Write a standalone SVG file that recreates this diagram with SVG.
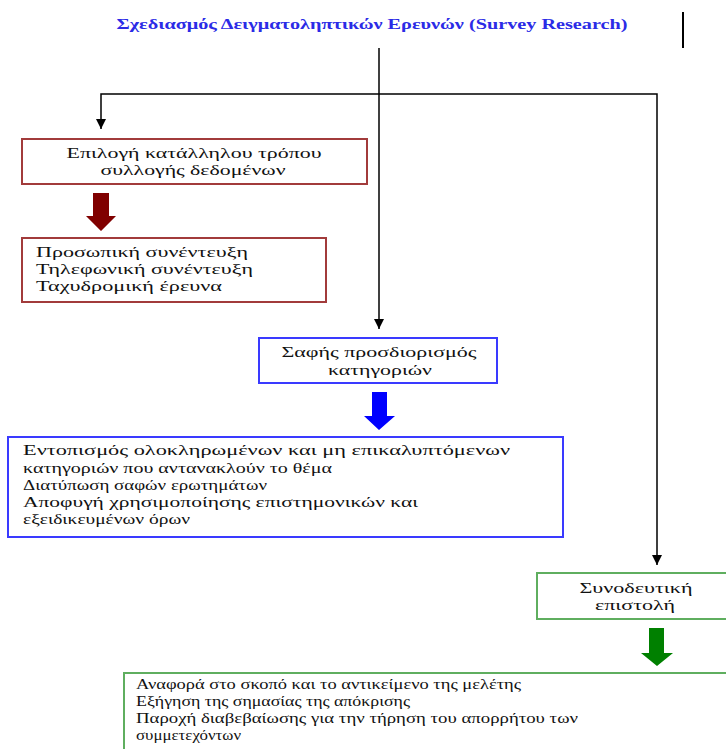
<svg xmlns="http://www.w3.org/2000/svg" width="726" height="749" viewBox="0 0 726 749">
<defs>
<style>
.t{font-family:"Liberation Serif","Times New Roman","DejaVu Serif",serif;font-size:15px;fill:#111}
.title{font-family:"Liberation Serif","Times New Roman","DejaVu Serif",serif;font-size:15px;font-weight:bold;fill:#2b2be6}
.red{fill:#fff;stroke:#a23b3b;stroke-width:2}
.blue{fill:#fff;stroke:#3a3aff;stroke-width:2}
.green{fill:#fff;stroke:#5fae5f;stroke-width:2}
.conn{fill:none;stroke:#000;stroke-width:1.5}
</style>
<marker id="ah" markerUnits="userSpaceOnUse" markerWidth="10" markerHeight="10" viewBox="0 0 10 10" refX="10" refY="5" orient="auto">
<path d="M0,0 L10,5 L0,10 Z" fill="#000"/>
</marker>
</defs>
<rect width="726" height="749" fill="#fff"/>
<text class="title" x="372" y="29" text-anchor="middle" textLength="511" lengthAdjust="spacingAndGlyphs">Σχεδιασμός Δειγματοληπτικών Ερευνών (Survey Research)</text>
<line x1="683" y1="12" x2="683" y2="48" stroke="#000" stroke-width="2"/>
<g id="connectors">
<path class="conn" d="M379 48 V329" marker-end="url(#ah)"/>
<path class="conn" d="M379 94 H101 V129" marker-end="url(#ah)"/>
<path class="conn" d="M379 94 H657 V565" marker-end="url(#ah)"/>
<polygon points="93,193 109,193 109,216 116,216 101,231 86,216 93,216" fill="#800000"/>
<polygon points="372,392 387,392 387,416 395,416 379,430 364,416 372,416" fill="#0000ff"/>
<polygon points="649,628 664,628 664,653 673,653 657,666 641,653 649,653" fill="#008000"/>
</g>
<g id="n1">
<rect class="red" x="22" y="139" width="345" height="45"/>
<text class="t" x="194" y="158" text-anchor="middle" textLength="255" lengthAdjust="spacingAndGlyphs">Επιλογή κατάλληλου τρόπου</text>
<text class="t" x="193" y="175" text-anchor="middle" textLength="185" lengthAdjust="spacingAndGlyphs">συλλογής δεδομένων</text>
</g>
<g id="n2">
<rect class="red" x="22" y="238" width="304" height="64"/>
<text class="t" x="36" y="257" textLength="212" lengthAdjust="spacingAndGlyphs">Προσωπική συνέντευξη</text>
<text class="t" x="36" y="274" textLength="217" lengthAdjust="spacingAndGlyphs">Τηλεφωνική συνέντευξη</text>
<text class="t" x="36" y="291" textLength="186" lengthAdjust="spacingAndGlyphs">Ταχυδρομική έρευνα</text>
</g>
<g id="n3">
<rect class="blue" x="259" y="338" width="238" height="45"/>
<text class="t" x="379" y="357" text-anchor="middle" textLength="195" lengthAdjust="spacingAndGlyphs">Σαφής προσδιορισμός</text>
<text class="t" x="380" y="375" text-anchor="middle" textLength="104" lengthAdjust="spacingAndGlyphs">κατηγοριών</text>
</g>
<g id="n4">
<rect class="blue" x="8" y="437" width="555" height="100"/>
<text class="t" x="23" y="455" textLength="487" lengthAdjust="spacingAndGlyphs">Εντοπισμός ολοκληρωμένων και μη επικαλυπτόμενων</text>
<text class="t" x="23" y="473" textLength="309" lengthAdjust="spacingAndGlyphs">κατηγοριών που αντανακλούν το θέμα</text>
<text class="t" x="23" y="490" textLength="244" lengthAdjust="spacingAndGlyphs">Διατύπωση σαφών ερωτημάτων</text>
<text class="t" x="23" y="507" textLength="395" lengthAdjust="spacingAndGlyphs">Αποφυγή χρησιμοποίησης επιστημονικών και</text>
<text class="t" x="23" y="524" textLength="167" lengthAdjust="spacingAndGlyphs">εξειδικευμένων όρων</text>
</g>
<g id="n5">
<rect class="green" x="537" y="573" width="200" height="46"/>
<text class="t" x="636" y="593" text-anchor="middle" textLength="113" lengthAdjust="spacingAndGlyphs">Συνοδευτική</text>
<text class="t" x="635" y="610" text-anchor="middle" textLength="80" lengthAdjust="spacingAndGlyphs">επιστολή</text>
</g>
<g id="n6">
<rect class="green" x="124" y="673" width="610" height="90"/>
<text class="t" x="136" y="689" textLength="385" lengthAdjust="spacingAndGlyphs">Αναφορά στο σκοπό και το αντικείμενο της μελέτης</text>
<text class="t" x="136" y="706" textLength="274" lengthAdjust="spacingAndGlyphs">Εξήγηση της σημασίας της απόκρισης</text>
<text class="t" x="136" y="723" textLength="442" lengthAdjust="spacingAndGlyphs">Παροχή διαβεβαίωσης για την τήρηση του απορρήτου των</text>
<text class="t" x="136" y="740" textLength="105" lengthAdjust="spacingAndGlyphs">συμμετεχόντων</text>
</g>
</svg>
